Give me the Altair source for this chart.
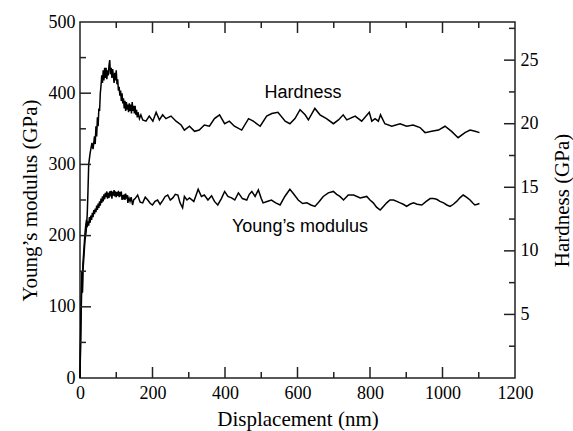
import altair as alt
import pandas as pd

# Hardness curve: displacement (nm) and hardness (GPa)
disp_h = [0, 1, 2, 3, 4, 5, 6, 8, 10, 12, 14, 17, 20, 22, 24, 28, 33, 36,
          40, 42, 44, 46, 48, 50, 52, 54, 56, 58, 60, 62, 64, 66, 68, 70, 72, 74, 76, 78,
          80, 82, 84, 86, 88, 90, 92, 94, 96, 98, 100, 102, 104, 106, 108, 110, 112, 114, 116, 118,
          120, 122, 124, 126, 128, 130, 132, 134, 136, 138, 140, 142, 144, 146, 148, 150, 152, 154, 156, 158,
          160, 164, 168, 173, 182, 191, 201, 210, 219, 228, 237, 251, 265, 279, 288, 302,
          316, 329, 343, 357, 371, 385, 399, 412, 426, 446, 465, 478, 497, 515, 529, 546, 566, 579, 593, 607,
          621, 630, 648, 662, 680, 699, 713, 726, 736, 759, 777, 798, 805, 814, 823, 829, 841, 860, 883, 901,
          919, 938, 952, 970, 989, 1007, 1025, 1043, 1062, 1076, 1090, 1102]
hardness = [0.0, 1.7, 3.1, 4.8, 6.2, 7.6, 6.7, 8.4, 9.2, 10.1, 10.9, 11.5, 12.9, 14.7, 16.8, 17.7, 18.5, 18.0,
            19.0, 18.4, 19.8, 19.0, 20.5, 19.8, 21.2, 21.0, 22.4, 23.0, 23.8, 23.2, 24.2, 23.4, 24.4, 23.6, 24.4, 23.5, 24.2, 23.8,
            24.6, 25.0, 23.9, 24.4, 23.6, 24.3, 23.8, 23.2, 24.0, 23.4, 24.2, 23.1, 23.5, 22.6, 22.9, 22.2, 22.6, 21.8, 22.4, 21.6,
            22.0, 21.2, 21.8, 21.0, 21.7, 21.1, 21.5, 20.9, 21.6, 21.0, 21.5, 20.8, 21.7, 21.0, 21.4, 20.8, 21.4, 20.7, 21.1, 20.5,
            20.9, 20.4, 20.7, 20.3, 20.2, 20.6, 20.2, 20.9, 20.3, 20.7, 20.4, 20.6, 20.2, 19.9, 19.5, 19.8,
            19.4, 19.5, 19.9, 19.8, 20.4, 20.7, 20.0, 20.2, 19.8, 19.5, 20.4, 20.2, 19.8, 20.6, 20.8, 20.9, 20.2, 20.0, 20.4, 21.1,
            20.7, 20.3, 21.2, 20.7, 20.4, 20.0, 20.3, 20.7, 20.3, 20.6, 20.2, 20.9, 20.2, 20.4, 20.2, 20.7, 20.0, 19.8, 20.0, 19.8,
            19.9, 19.7, 19.3, 19.4, 19.5, 19.8, 19.4, 18.9, 19.3, 19.5, 19.4, 19.3]

# Young's modulus curve: displacement (nm) and modulus (GPa)
disp_e = [0, 1, 2, 3, 4, 5, 6, 7, 8, 10, 12, 14, 16, 18,
          20, 22, 24, 26, 28, 30, 32, 34, 36, 38, 40, 42, 44, 46, 48, 50, 52, 54, 56, 58,
          60, 62, 64, 66, 68, 70, 72, 74, 76, 78, 80, 82, 84, 86, 88, 90, 92, 94, 96, 98,
          100, 102, 104, 106, 108, 110, 112, 114, 116, 118, 120, 122, 124, 126, 128, 130, 132, 135, 138, 141,
          145, 148, 152, 159, 166, 173, 180, 187, 194, 200, 207, 214, 221, 228, 235, 242, 249, 256,
          263, 270, 276, 283, 288, 295, 302, 314, 326, 335, 343, 353, 363, 371, 380, 390, 399, 408, 418, 427,
          437, 448, 460, 467, 474, 483, 492, 500, 505, 516, 528, 540, 552, 565, 579, 590, 602, 614, 626, 637,
          648, 660, 671, 685, 699, 708, 717, 727, 740, 755, 773, 791, 800, 809, 818, 828, 837, 846, 855, 865,
          874, 883, 892, 901, 910, 920, 930, 943, 955, 966, 975, 984, 993, 1003, 1012, 1021, 1030, 1039, 1048, 1057,
          1066, 1076, 1083, 1089, 1096, 1102]
modulus = [0, 35, 70, 100, 125, 150, 135, 120, 160, 175, 190, 205, 215, 222,
           212, 220, 214, 226, 218, 228, 222, 232, 226, 236, 230, 238, 233, 242, 236, 245, 239, 248, 242, 252,
           246, 255, 248, 258, 251, 260, 254, 262, 252, 260, 253, 262, 255, 263, 252, 262, 256, 264, 255, 262,
           254, 261, 256, 263, 254, 261, 255, 262, 250, 257, 251, 258, 250, 259, 252, 257, 246, 253, 248, 254,
           243, 250, 252, 257, 247, 246, 254, 250, 245, 243, 248, 250, 244, 249, 255, 257, 250, 253,
           258, 257, 246, 239, 255, 250, 253, 248, 265, 255, 257, 250, 256, 248, 243, 252, 262, 255, 253, 250,
           260, 252, 250, 258, 262, 255, 264, 252, 246, 248, 250, 246, 243, 255, 265, 258, 250, 245, 246, 243,
           241, 248, 255, 260, 262, 258, 255, 250, 257, 257, 253, 255, 250, 246, 240, 236, 241, 246, 250, 250,
           248, 246, 244, 241, 244, 246, 244, 243, 248, 252, 252, 251, 248, 246, 243, 241, 244, 248, 253, 257,
           254, 250, 246, 243, 244, 245]

# Axis tick values
x_major = [0, 200, 400, 600, 800, 1000, 1200]
x_minor = [100, 300, 500, 700, 900, 1100]
e_major = [0, 100, 200, 300, 400, 500]
e_minor = [50, 150, 250, 350, 450]
h_major = [5, 10, 15, 20, 25]
h_minor = [2.5, 7.5, 12.5, 17.5, 22.5, 27.5]

# Curve labels
h_label = ["Hardness"]
h_label_x = [615]
h_label_y = [22.4]
e_label = ["Young\u2019s modulus"]
e_label_x = [607]
e_label_y = [212]

W, H = 435, 356
X_DOM = [0, 1200]
E_DOM = [0, 500]
H_DOM = [0, 28]
SERIF = "Liberation Serif"
SANS = "Liberation Sans"

df_h = pd.DataFrame({"d": disp_h, "h": hardness})
df_e = pd.DataFrame({"d": disp_e, "e": modulus})

xscale = alt.Scale(domain=X_DOM, nice=False, zero=False)
escale = alt.Scale(domain=E_DOM, nice=False, zero=False)
hscale = alt.Scale(domain=H_DOM, nice=False, zero=False)

ax_common = dict(grid=False, domain=False, ticks=False, labelFont=SERIF, labelFontSize=18,
                 labelColor="black", titleFont=SERIF, titleFontSize=21, titleFontWeight="normal",
                 titleColor="black", labelFlush=False, format="d")

# one shared bottom axis definition, repeated in every layer so the merge keeps it
x_axis = alt.Axis(values=x_major, title="Displacement (nm)", labelPadding=6,
                  titlePadding=6, **ax_common)


def xenc(field):
    return alt.X(field, scale=xscale, axis=x_axis)


young = alt.Chart(df_e).mark_line(color="black", strokeWidth=1.5).encode(
    x=xenc("d:Q"),
    y=alt.Y("e:Q", scale=escale,
            axis=alt.Axis(values=e_major, title="Young\u2019s modulus (GPa)", orient="left",
                          labelPadding=5, titlePadding=8, **ax_common)),
)

hard = alt.Chart(df_h).mark_line(color="black", strokeWidth=1.5).encode(
    x=xenc("d:Q"),
    y=alt.Y("h:Q", scale=hscale,
            axis=alt.Axis(values=h_major, title="Hardness (GPa)", orient="right",
                          titleAngle=270, titleX=47, titleY=H / 2, titleAlign="center",
                          titleBaseline="middle", labelPadding=5, **ax_common)),
)


def x_ticks(vals, y0, y1):
    return alt.Chart(pd.DataFrame({"d": vals})).mark_rule(color="#222", strokeWidth=1.5).encode(
        x=xenc("d:Q"), y=alt.value(y0), y2=alt.value(y1))


def y_ticks(vals, scale, x0, x1):
    return alt.Chart(pd.DataFrame({"v": vals})).mark_rule(color="#222", strokeWidth=1.5).encode(
        y=alt.Y("v:Q", scale=scale, axis=None), x=alt.value(x0), x2=alt.value(x1))


MAJ, MIN = 11, 6
ticks = [
    x_ticks(x_major[1:-1], H, H - MAJ), x_ticks(x_minor, H, H - MIN),
    x_ticks(x_major[1:-1], 0, MAJ), x_ticks(x_minor, 0, MIN),
    y_ticks(e_major[1:-1], escale, 0, MAJ), y_ticks(e_minor, escale, 0, MIN),
    y_ticks(h_major, hscale, W, W - MAJ), y_ticks(h_minor, hscale, W, W - MIN),
]

h_text = alt.Chart(pd.DataFrame({"t": h_label, "d": h_label_x, "y": h_label_y})).mark_text(
    font=SANS, fontSize=18, color="black").encode(
    x=xenc("d:Q"), y=alt.Y("y:Q", scale=hscale, axis=None), text="t:N")

e_text = alt.Chart(pd.DataFrame({"t": e_label, "d": e_label_x, "y": e_label_y})).mark_text(
    font=SANS, fontSize=18, color="black").encode(
    x=xenc("d:Q"), y=alt.Y("y:Q", scale=escale, axis=None), text="t:N")

chart = alt.layer(young, hard, h_text, e_text, *ticks).resolve_scale(y="independent").properties(
    width=W, height=H,
    autosize=alt.AutoSizeParams(type="none"),
    padding={"left": 80, "top": 22, "right": 58, "bottom": 53},
    background="white",
).configure_view(stroke="#222", strokeWidth=1.5)

chart.save("out.html", embed_options={"renderer": "svg", "actions": False})
